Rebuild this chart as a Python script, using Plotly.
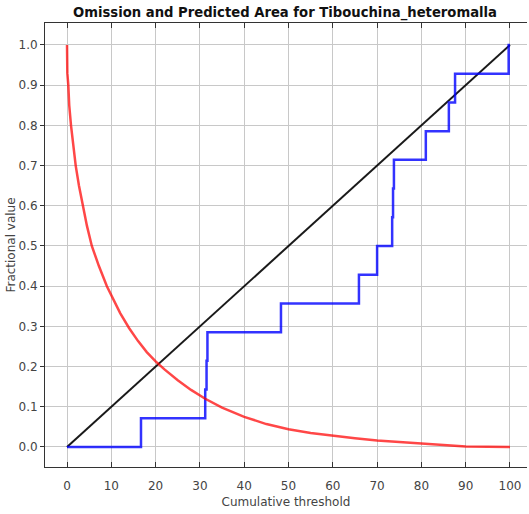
import plotly.graph_objects as go

# Predicted area (red)
area_x = [0, 0.07, 0.29, 0.5, 0.9, 1.4, 1.96, 2.7, 3.54, 4.5, 5.6, 7.2, 9.0, 10.5, 12, 14, 16, 18,
          20, 22, 25, 28, 31.2, 35, 40, 45, 50, 55, 60, 65, 70, 75, 80, 85, 88, 90, 100]
area_y = [1.0, 0.93, 0.9, 0.85, 0.8, 0.75, 0.7, 0.65, 0.6, 0.55, 0.5, 0.45, 0.4, 0.365, 0.333,
          0.296, 0.264, 0.236, 0.213, 0.193, 0.166, 0.142, 0.12, 0.098, 0.075, 0.057, 0.044,
          0.035, 0.028, 0.022, 0.016, 0.012, 0.008, 0.004, 0.002, 0.001, 0.0]

# Omission on training samples (blue step)
omis_x = [0, 16.7, 31.2, 31.5, 31.7, 48.3, 65.9, 70.0, 73.4, 73.6, 73.8, 81.0, 86.2, 87.6, 99.7, 100]
omis_y = [0, 0.0714, 0.1429, 0.2143, 0.2857, 0.3571, 0.4286, 0.5, 0.5714, 0.6429, 0.7143, 0.7857,
          0.8571, 0.9286, 1.0, 1.0]

# Predicted omission (black diagonal)
pred_x = [0, 100]
pred_y = [0, 1]

x_ticks = [0, 10, 20, 30, 40, 50, 60, 70, 80, 90, 100]
y_ticks = [0.0, 0.1, 0.2, 0.3, 0.4, 0.5, 0.6, 0.7, 0.8, 0.9, 1.0]
y_ticktext = ["%.1f" % v for v in y_ticks]

fig = go.Figure()
fig.add_trace(go.Scatter(x=pred_x, y=pred_y, mode="lines",
                         line=dict(color="rgba(0,0,0,0.9)", width=2), showlegend=False))
fig.add_trace(go.Scatter(x=omis_x, y=omis_y, mode="lines", line_shape="hv",
                         line=dict(color="rgba(0,0,255,0.8)", width=2.5), showlegend=False))
fig.add_trace(go.Scatter(x=area_x, y=area_y, mode="lines",
                         line=dict(color="rgba(255,0,0,0.72)", width=2.5),
                         showlegend=False))

font_family = "DejaVu Sans"
fig.update_layout(
    width=529, height=514,
    margin=dict(l=45, r=2, t=23, b=47),
    paper_bgcolor="white", plot_bgcolor="white",
    title=dict(text="<b>Omission and Predicted Area for Tibouchina_heteromalla</b>",
               font=dict(family=font_family, size=13.2, color="#111"),
               x=285/529, xanchor="center", xref="container",
               y=1-12/514, yanchor="middle", yref="container"),
    font=dict(family=font_family, size=12, color="#444"),
)
fig.update_xaxes(range=[-4.97, 103.84], tickvals=x_ticks, ticktext=[str(v) for v in x_ticks],
                 automargin=False,
                 showgrid=True, gridcolor="#c8c8c8", gridwidth=1, zeroline=False,
                 showline=True, linecolor="#333", linewidth=1, mirror="ticks",
                 ticks="inside", ticklen=5, tickcolor="#333", ticklabelstandoff=8,
                 title=dict(text="Cumulative threshold", standoff=5,
                            font=dict(family=font_family, size=12, color="#444")))
fig.update_yaxes(range=[-0.0498, 1.0547], tickvals=y_ticks, ticktext=y_ticktext,
                 automargin=False,
                 showgrid=True, gridcolor="#c8c8c8", gridwidth=1, zeroline=False,
                 showline=True, linecolor="#333", linewidth=1, mirror=False,
                 ticks="outside", ticklen=4, tickcolor="#333",
                 title=dict(text="Fractional value", standoff=0,
                            font=dict(family=font_family, size=12, color="#444")))

fig.write_html("out.html", config={"displayModeBar": False},
               post_script="document.body.style.margin='0';document.body.style.overflow='hidden';")
